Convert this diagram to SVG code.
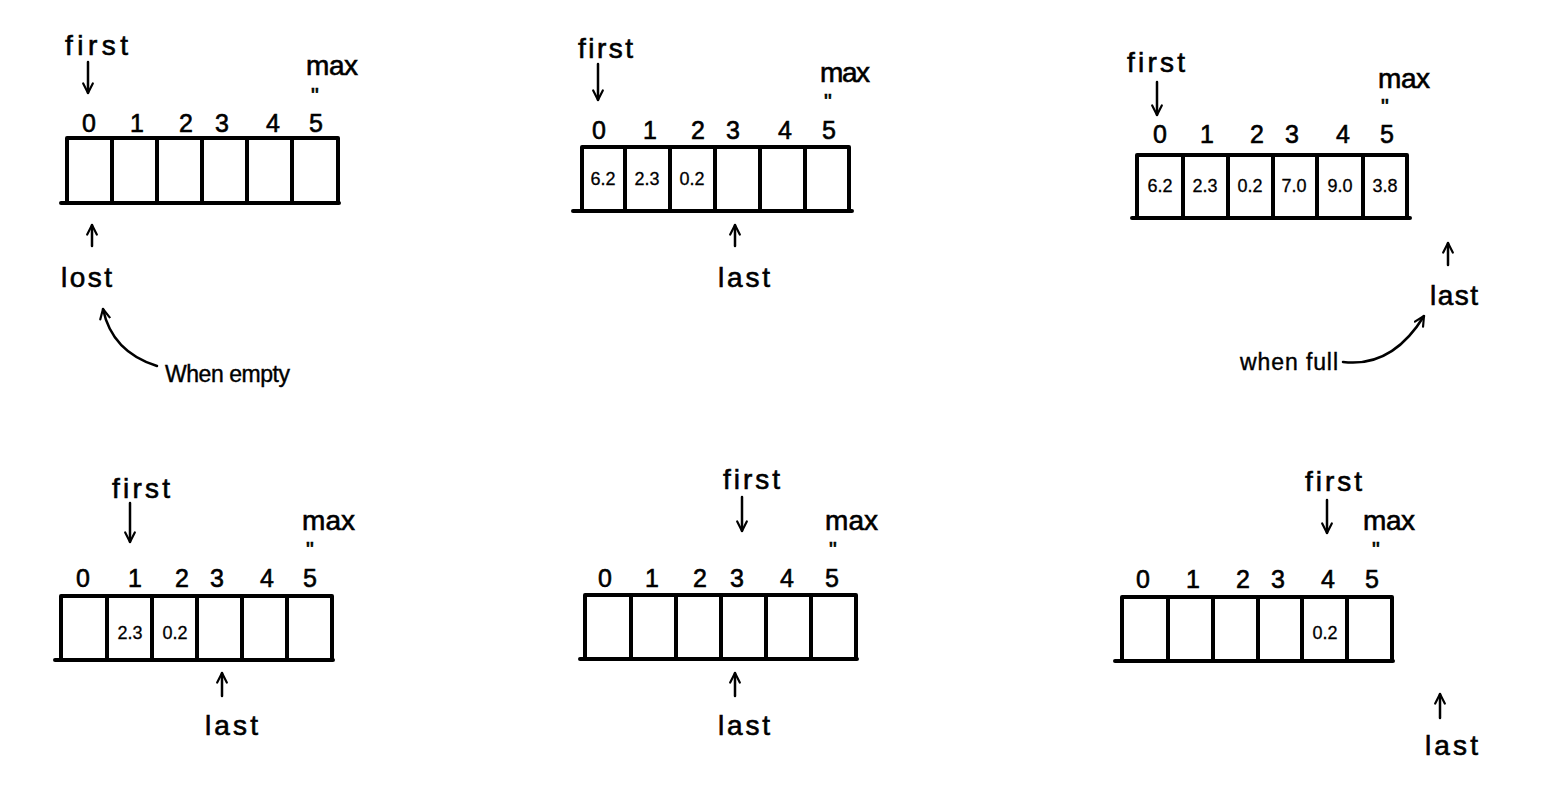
<svg xmlns="http://www.w3.org/2000/svg" width="1553" height="799" viewBox="0 0 1553 799">
<style>
.bg{fill:#fff}
.box{stroke:#000;stroke-width:4;fill:none;stroke-linecap:round}
.arr{stroke:#000;stroke-width:2.5;fill:none;stroke-linecap:round;marker-end:url(#v)}
text{font-family:"Liberation Sans","DejaVu Sans",sans-serif;fill:#000;stroke:#000;stroke-width:0.6}
.lbl{font-size:28px}
.idx{font-size:25px;text-anchor:middle}
.val{font-size:18px;text-anchor:middle;stroke-width:0.3}
.dit{font-size:22px}
.note{font-size:23px;stroke-width:0.4}
</style>
<defs>
<marker id="v" viewBox="0 0 10 10" refX="9" refY="5" markerWidth="12" markerHeight="12" markerUnits="userSpaceOnUse" orient="auto">
<path d="M1,1 L9,5 L1,9" fill="none" stroke="#000" stroke-width="1.8" stroke-linecap="round" stroke-linejoin="round"/>
</marker>
</defs>
<rect class="bg" width="1553" height="799"/>

<g id="panel1">
<text class="lbl" x="65" y="55" textLength="63">first</text>
<text class="lbl" x="306" y="75" textLength="52">max</text>
<text class="dit" x="311" y="103">"</text>
<text class="idx" x="89" y="132">0</text><text class="idx" x="137" y="132">1</text><text class="idx" x="186" y="132">2</text><text class="idx" x="222" y="132">3</text><text class="idx" x="273" y="132">4</text><text class="idx" x="316" y="132">5</text>
<path class="box" d="M67,138 H338 M61,203 H339 M67,138 V203 M112,138 V203 M157,138 V203 M202,138 V203 M247,138 V203 M292,138 V203 M338,138 V203"/>
<text class="lbl" x="61" y="287" textLength="51">lost</text>
<text class="note" x="165" y="382" textLength="125">When empty</text>
</g>

<g id="panel2">
<text class="lbl" x="578" y="58" textLength="55">first</text>
<text class="lbl" x="820" y="82" textLength="50">max</text>
<text class="dit" x="824" y="109">"</text>
<text class="idx" x="599" y="139">0</text><text class="idx" x="650" y="139">1</text><text class="idx" x="698" y="139">2</text><text class="idx" x="733" y="139">3</text><text class="idx" x="785" y="139">4</text><text class="idx" x="829" y="139">5</text>
<path class="box" d="M582,147 H849 M573,211 H852 M582,147 V211 M625,147 V211 M670,147 V211 M715,147 V211 M760,147 V211 M805,147 V211 M849,147 V211"/>
<text class="val" x="603" y="185">6.2</text><text class="val" x="647" y="185">2.3</text><text class="val" x="692" y="185">0.2</text>
<text class="lbl" x="718" y="287" textLength="52">last</text>
</g>

<g id="panel3">
<text class="lbl" x="1127" y="72" textLength="58">first</text>
<text class="lbl" x="1378" y="88" textLength="52">max</text>
<text class="dit" x="1381" y="114">"</text>
<text class="idx" x="1160" y="143">0</text><text class="idx" x="1207" y="143">1</text><text class="idx" x="1257" y="143">2</text><text class="idx" x="1292" y="143">3</text><text class="idx" x="1343" y="143">4</text><text class="idx" x="1387" y="143">5</text>
<path class="box" d="M1137,155 H1407 M1132,218 H1410 M1137,155 V218 M1183,155 V218 M1228,155 V218 M1273,155 V218 M1317,155 V218 M1363,155 V218 M1407,155 V218"/>
<text class="val" x="1160" y="192">6.2</text><text class="val" x="1205" y="192">2.3</text><text class="val" x="1250" y="192">0.2</text><text class="val" x="1294" y="192">7.0</text><text class="val" x="1340" y="192">9.0</text><text class="val" x="1385" y="192">3.8</text>
<text class="lbl" x="1430" y="305" textLength="48">last</text>
<text class="note" x="1240" y="370" textLength="98">when full</text>
</g>

<g id="panel4">
<text class="lbl" x="112" y="498" textLength="58">first</text>
<text class="lbl" x="302" y="530" textLength="53">max</text>
<text class="dit" x="306" y="557">"</text>
<text class="idx" x="83" y="587">0</text><text class="idx" x="135" y="587">1</text><text class="idx" x="182" y="587">2</text><text class="idx" x="217" y="587">3</text><text class="idx" x="267" y="587">4</text><text class="idx" x="310" y="587">5</text>
<path class="box" d="M61,596 H332 M55,660 H333 M61,596 V660 M107,596 V660 M152,596 V660 M197,596 V660 M242,596 V660 M287,596 V660 M332,596 V660"/>
<text class="val" x="130" y="639">2.3</text><text class="val" x="175" y="639">0.2</text>
<text class="lbl" x="205" y="735" textLength="53">last</text>
</g>

<g id="panel5">
<text class="lbl" x="723" y="489" textLength="57">first</text>
<text class="lbl" x="825" y="530" textLength="53">max</text>
<text class="dit" x="829" y="557">"</text>
<text class="idx" x="605" y="587">0</text><text class="idx" x="652" y="587">1</text><text class="idx" x="700" y="587">2</text><text class="idx" x="737" y="587">3</text><text class="idx" x="787" y="587">4</text><text class="idx" x="832" y="587">5</text>
<path class="box" d="M585,595 H856 M580,659 H857 M585,595 V659 M631,595 V659 M676,595 V659 M721,595 V659 M766,595 V659 M811,595 V659 M856,595 V659"/>
<text class="lbl" x="718" y="735" textLength="52">last</text>
</g>

<g id="panel6">
<text class="lbl" x="1305" y="491" textLength="57">first</text>
<text class="lbl" x="1363" y="530" textLength="52">max</text>
<text class="dit" x="1372" y="557">"</text>
<text class="idx" x="1143" y="588">0</text><text class="idx" x="1193" y="588">1</text><text class="idx" x="1243" y="588">2</text><text class="idx" x="1278" y="588">3</text><text class="idx" x="1328" y="588">4</text><text class="idx" x="1372" y="588">5</text>
<path class="box" d="M1122,597 H1392 M1115,661 H1393 M1122,597 V661 M1168,597 V661 M1213,597 V661 M1258,597 V661 M1302,597 V661 M1347,597 V661 M1392,597 V661"/>
<text class="val" x="1325" y="639">0.2</text>
<text class="lbl" x="1425" y="755" textLength="53">last</text>
</g>

<g id="connectors">
<path class="arr" d="M88,62 V93"/>
<path class="arr" d="M92,246 V225"/>
<path class="arr" d="M157,366 Q112,352 103,309"/>
<path class="arr" d="M598,64 V100"/>
<path class="arr" d="M735,246 V225"/>
<path class="arr" d="M1157,82 V115"/>
<path class="arr" d="M1448,265 V243"/>
<path class="arr" d="M1343,362 Q1392,368 1424,316"/>
<path class="arr" d="M130,503 V542"/>
<path class="arr" d="M222,696 V673"/>
<path class="arr" d="M742,497 V531"/>
<path class="arr" d="M735,696 V673"/>
<path class="arr" d="M1327,500 V533"/>
<path class="arr" d="M1440,718 V694"/>
</g>
</svg>
